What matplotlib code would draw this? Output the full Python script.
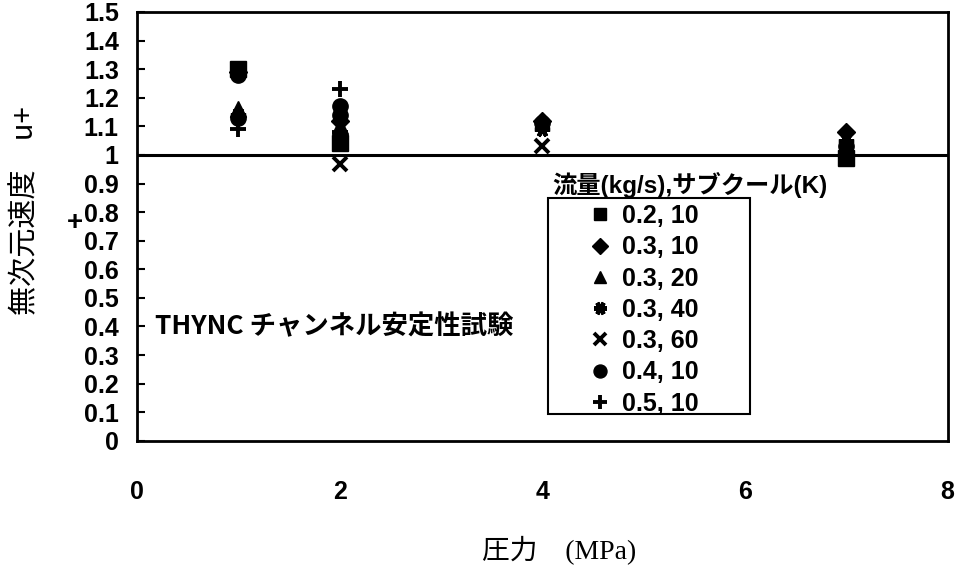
import matplotlib
matplotlib.use('Agg')
import matplotlib.pyplot as plt
from matplotlib.patches import Rectangle

plt.rcParams['font.family'] = ['Liberation Sans', 'Noto Sans CJK JP', 'DejaVu Sans']

# data (pressure MPa, u+)
sq_x = [1, 2, 7]
sq_y = [1.30, 1.04, 0.99]
dia_x = [1, 2, 4, 7]
dia_y = [1.29, 1.12, 1.12, 1.08]
tri_x = [1, 2]
tri_y = [1.16, 1.10]
ast_x = [1, 2, 4, 7]
ast_y = [1.14, 1.06, 1.09, 1.05]
cross_x = [2, 4]
cross_y = [0.97, 1.03]
circ_x = [1, 1, 2, 2, 4, 7]
circ_y = [1.28, 1.13, 1.17, 1.14, 1.11, 1.03]
plus_x = [1, 2, 2]
plus_y = [1.09, 1.23, 1.08]

labels = ['0.2, 10', '0.3, 10', '0.3, 20', '0.3, 40', '0.3, 60', '0.4, 10', '0.5, 10']
xticks = [0, 2, 4, 6, 8]
yticks = [0, 0.1, 0.2, 0.3, 0.4, 0.5, 0.6, 0.7, 0.8, 0.9, 1, 1.1, 1.2, 1.3, 1.4, 1.5]
yticklabels = ['0', '0.1', '0.2', '0.3', '0.4', '0.5', '0.6', '0.7', '0.8', '0.9',
               '1', '1.1', '1.2', '1.3', '1.4', '1.5']

fig = plt.figure(figsize=(9.64, 5.71), dpi=100)
ax = fig.add_axes([0.142, 0.228, 0.841, 0.751])

ax.axhline(1, color='black', lw=2.2, zorder=1)

ax.plot(sq_x, sq_y, ls='none', marker='s', ms=11, color='black', label=labels[0])
ax.plot(dia_x, dia_y, ls='none', marker='D', ms=9, color='black', label=labels[1])
ax.plot(tri_x, tri_y, ls='none', marker='^', ms=11, color='black', label=labels[2])
ax.plot(ast_x, ast_y, ls='none', marker=(6, 2, 90), ms=11, mew=3, color='black', label=labels[3])
ax.plot(cross_x, cross_y, ls='none', marker='x', ms=10, mew=2.8, color='black', label=labels[4])
ax.plot(circ_x, circ_y, ls='none', marker='o', ms=11, color='black', label=labels[5])
ax.plot(plus_x, plus_y, ls='none', marker='+', ms=12, mew=2.8, color='black', label=labels[6])

ax.set_xlim(0, 8)
ax.set_ylim(0, 1.5)
ax.set_xticks(xticks)
ax.set_yticks(yticks)
ax.set_yticklabels(yticklabels)
ax.tick_params(axis='x', length=0, pad=28, labelsize=18)
ax.tick_params(axis='y', direction='in', length=6, width=1.5, pad=13, labelsize=18)
for t in ax.get_xticklabels() + ax.get_yticklabels():
    t.set_fontweight('bold')
for s in ax.spines.values():
    s.set_linewidth(2)

fig.text(25 / 964, 1 - 211 / 571, '無次元速度　u+', family=['Noto Sans CJK JP', 'DejaVu Sans'],
         fontsize=21, rotation=90, ha='center', va='center')
fig.text(0.58, 0.036, '圧力　(MPa)', family=['Liberation Serif', 'Noto Sans CJK JP'],
         fontsize=20, ha='center', va='center')
fig.text(0.078, 0.61, '+', fontsize=20, fontweight='bold', ha='center', va='center')

ax.text(0.022, 0.265, 'THYNC チャンネル安定性試験', transform=ax.transAxes,
        family=['Noto Sans CJK JP'], fontsize=19, fontweight='bold', va='center')

ax.text(0.513, 0.597, '流量(kg/s),サブクール(K)', transform=ax.transAxes,
        family=['Liberation Sans', 'Noto Sans CJK JP'], fontsize=17.5, fontweight='bold',
        va='center')
ax.add_patch(Rectangle((0.507, 0.063), 0.249, 0.503, transform=ax.transAxes,
                       fill=True, facecolor='white', edgecolor='black', lw=1.5, zorder=4))
leg = ax.legend(loc='upper center', bbox_to_anchor=(0.625, 0.552), frameon=False,
                prop={'size': 18, 'weight': 'bold'}, handlelength=0.9,
                handletextpad=0.4, labelspacing=0.29, borderpad=0, borderaxespad=0,
                markerscale=0.85)
leg.set_zorder(5)

plt.savefig('out.png', dpi=100)
